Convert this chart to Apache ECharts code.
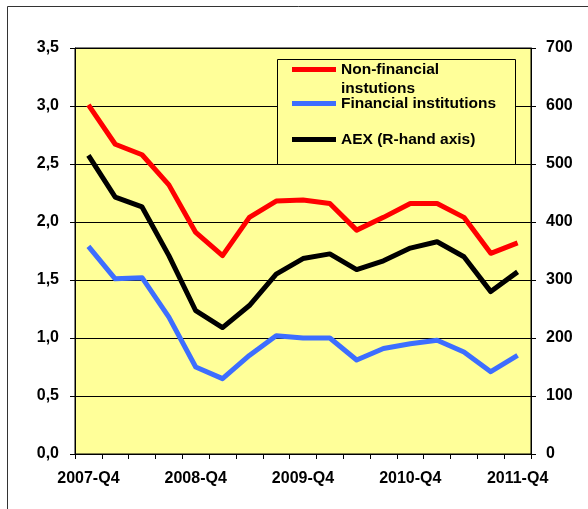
<!DOCTYPE html>
<html>
<head>
<meta charset="utf-8">
<script src="https://cdn.jsdelivr.net/npm/echarts@6/dist/echarts.min.js"></script>
<style>
html,body{margin:0;padding:0;background:#fff;}
#c{width:588px;height:509px;}
</style>
</head>
<body>
<div id="c"></div>
<script>
var categories = ['2007-Q4','2008-Q1','2008-Q2','2008-Q3','2008-Q4','2009-Q1','2009-Q2','2009-Q3','2009-Q4','2010-Q1','2010-Q2','2010-Q3','2010-Q4','2011-Q1','2011-Q2','2011-Q3','2011-Q4'];
var nonFinancial = [3.01, 2.67, 2.58, 2.32, 1.91, 1.71, 2.04, 2.18, 2.19, 2.16, 1.93, 2.04, 2.16, 2.16, 2.04, 1.73, 1.82];
var financial = [1.79, 1.51, 1.52, 1.18, 0.75, 0.65, 0.85, 1.02, 1.00, 1.00, 0.81, 0.91, 0.95, 0.98, 0.88, 0.71, 0.85];
var aex = [515, 443, 426, 342, 247, 218, 256, 310, 337, 345, 318, 333, 355, 366, 340, 280, 314];
var seriesNames = ['Non-financial\ninstutions', 'Financial institutions', 'AEX (R-hand axis)'];

var FONT = 'Liberation Sans, Arial, sans-serif';
var chart = echarts.init(document.getElementById('c'), null, {renderer:'canvas'});
var labelStyle = {fontFamily: FONT, fontWeight: 'bold', fontSize: 16, color: '#000'};
function legendCfg(name, top) {
  var multi = name.indexOf('\n') >= 0;
  return {
    data: [name], left: 292, top: top, padding: 0, z: 200,
    itemWidth: 44, itemHeight: 5, icon: 'rect', itemGap: 0,
    selectedMode: false,
    formatter: function(n){ return multi ? '\n' + n : n; },
    textStyle: {fontFamily: FONT, fontWeight: 'bold', fontSize: 15.5, color: '#000', lineHeight: 19}
  };
}
var option = {
  animation: false,
  backgroundColor: '#fff',
  graphic: [
    {type:'polyline', z: 0, shape:{points:[[7.5,520],[7.5,6.5],[600,6.5]]}, style:{stroke:'#333', lineWidth:1, fill:null}},
    {type:'rect', z: 100, shape:{x:277.5, y:59.5, width:238, height:105}, style:{fill:'#FFFF99', stroke:'#000', lineWidth:1}}
  ],
  legend: [
    legendCfg(seriesNames[0], 41),
    legendCfg(seriesNames[1], 94),
    legendCfg(seriesNames[2], 130)
  ],
  grid: {left: 75, right: 57, top: 48, bottom: 55, show: true, backgroundColor: '#FFFF99', borderColor: '#000', borderWidth: 1},
  xAxis: {
    type: 'category', data: categories, boundaryGap: true,
    axisLine: {lineStyle: {color: '#000', width: 1}},
    axisTick: {show: true, interval: 0, length: 5, inside: false, lineStyle: {color: '#000'}},
    axisLabel: Object.assign({interval: 3, margin: 17}, labelStyle),
    splitLine: {show: false}
  },
  yAxis: [
    {type: 'value', min: 0, max: 3.5, interval: 0.5, position: 'left',
     axisLine: {show: true, lineStyle: {color: '#000'}},
     axisTick: {show: true, length: 5, lineStyle: {color: '#000'}},
     axisLabel: Object.assign({margin: 16, formatter: function(v){return v.toFixed(1).replace('.', ',');}}, labelStyle),
     splitLine: {show: true, lineStyle: {color: '#000', width: 1}}},
    {type: 'value', min: 0, max: 700, interval: 100, position: 'right',
     axisLine: {show: true, lineStyle: {color: '#000'}},
     axisTick: {show: true, length: 5, lineStyle: {color: '#000'}},
     axisLabel: Object.assign({margin: 15}, labelStyle),
     splitLine: {show: false}}
  ],
  series: [
    {name: seriesNames[0], type: 'line', data: nonFinancial, yAxisIndex: 0, showSymbol: false, symbol: 'none',
     color: '#FF0000', lineStyle: {width: 5, color: '#FF0000', join: 'round'}, z: 3},
    {name: seriesNames[1], type: 'line', data: financial, yAxisIndex: 0, showSymbol: false, symbol: 'none',
     color: '#3D6EFF', lineStyle: {width: 5, color: '#3D6EFF', join: 'round'}, z: 3},
    {name: seriesNames[2], type: 'line', data: aex, yAxisIndex: 1, showSymbol: false, symbol: 'none',
     color: '#000000', lineStyle: {width: 5, color: '#000000', join: 'round'}, z: 3}
  ]
};
chart.setOption(option);
</script>
</body>
</html>
